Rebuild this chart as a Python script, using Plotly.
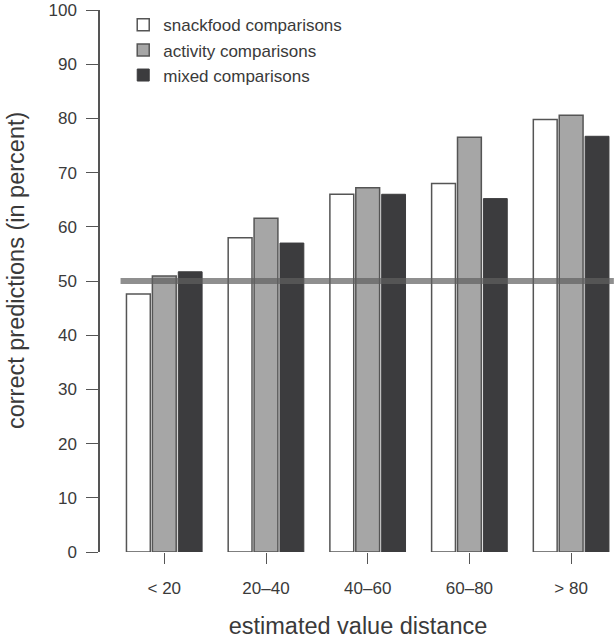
import plotly.graph_objects as go

categories = ["< 20", "20\u201340", "40\u201360", "60\u201380", "> 80"]
snackfood = [47.6, 58.0, 66.0, 68.0, 79.8]
activity = [50.9, 61.6, 67.2, 76.5, 80.6]
mixed = [51.7, 57.0, 66.0, 65.2, 76.7]
chance_level = 50
y_ticks = [0, 10, 20, 30, 40, 50, 60, 70, 80, 90, 100]

FONT = "Liberation Sans, Arial, Helvetica, sans-serif"
TXT = "#3a3a3a"
EDGE = "#555555"

fig = go.Figure()
fig.add_trace(go.Bar(x=categories, y=snackfood, name="snackfood comparisons",
                     marker=dict(color="#ffffff", line=dict(color=EDGE, width=1.5))))
fig.add_trace(go.Bar(x=categories, y=activity, name="activity comparisons",
                     marker=dict(color="#a6a6a6", line=dict(color=EDGE, width=1.5))))
fig.add_trace(go.Bar(x=categories, y=mixed, name="mixed comparisons",
                     marker=dict(color="#3c3c3e", line=dict(color="#3c3c3e", width=1))))

fig.add_shape(type="line", xref="x", yref="y", x0=-0.43, x1=4.42,
              y0=chance_level, y1=chance_level,
              line=dict(color="rgba(95,95,95,0.7)", width=6), layer="above")

fig.add_annotation(text="correct predictions (in percent)", textangle=-90,
                   xref="paper", yref="paper", x=-0.163, y=0.52,
                   xanchor="center", yanchor="middle", showarrow=False,
                   font=dict(size=23.5, color=TXT, family=FONT))

fig.update_layout(
    width=616, height=639,
    margin=dict(l=100, r=0, t=10, b=87, autoexpand=False),
    plot_bgcolor="white", paper_bgcolor="white",
    font=dict(family=FONT, size=17, color=TXT),
    barmode="group", bargap=0.236, bargroupgap=0.08,
    showlegend=True,
    legend=dict(x=0.045, y=1.005, xanchor="left", yanchor="top",
                font=dict(size=17, color=TXT), bgcolor="rgba(0,0,0,0)",
                traceorder="normal", itemclick=False),
    xaxis=dict(range=[-0.632, 4.441], showline=False, showgrid=False, zeroline=False,
               automargin=False,
               ticks="outside", ticklen=11, tickwidth=1.3, tickcolor=EDGE,
               tickfont=dict(size=17, color=TXT), ticklabelstandoff=10,
               title=dict(text="estimated value distance", font=dict(size=23.5, color=TXT),
                          standoff=26)),
    yaxis=dict(range=[0, 100], tickvals=y_ticks, showline=True, linecolor=EDGE, linewidth=1.5,
               showgrid=False, zeroline=False, automargin=False,
               ticks="outside", ticklen=12, tickwidth=1.3,
               tickcolor=EDGE, tickfont=dict(size=17, color=TXT), ticklabelstandoff=6,
               ticklabeloverflow="allow"),
)

fig.write_html("out.html", config={"displayModeBar": False},
               post_script="document.body.style.margin='0';document.body.style.overflow='hidden';")
